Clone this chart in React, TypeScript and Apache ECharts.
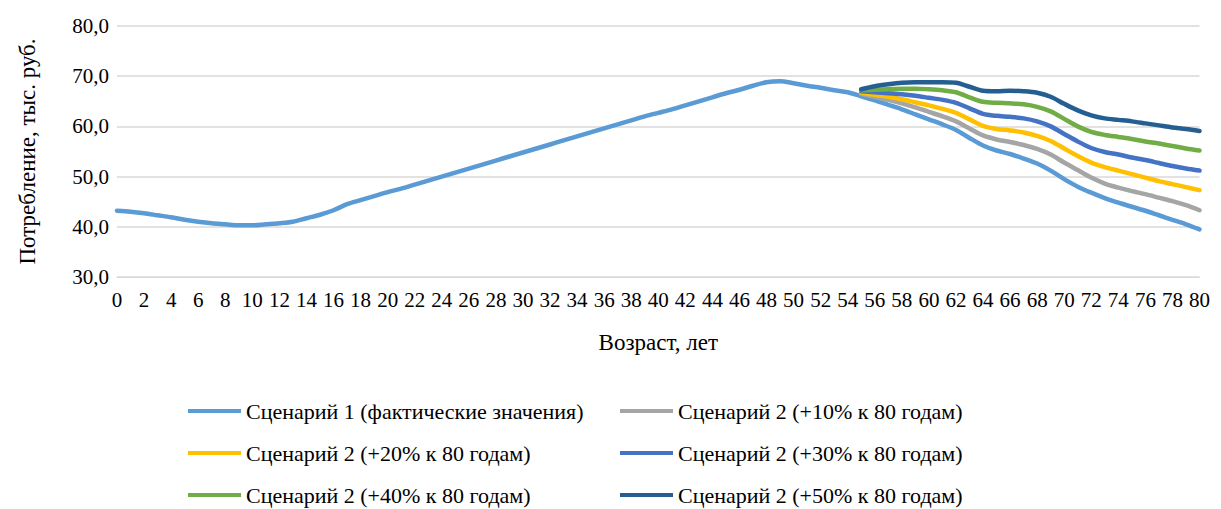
import React, { useEffect, useRef } from "react";
import * as echarts from "echarts";

const ages = Array.from({ length: 81 }, (_, i) => String(i));

const scenario1 = [
  43.2, 43.0, 42.7, 42.3, 41.9, 41.4, 41.0, 40.7, 40.5, 40.3, 40.3, 40.5, 40.7, 41.0, 41.7, 42.4,
  43.3, 44.5, 45.3, 46.1, 46.9, 47.6, 48.4, 49.2, 50.0, 50.8, 51.6, 52.4, 53.2, 54.0, 54.8, 55.6,
  56.4, 57.2, 58.0, 58.8, 59.6, 60.4, 61.2, 62.0, 62.7, 63.4, 64.2, 65.0, 65.8, 66.6, 67.3, 68.1,
  68.8, 69.0, 68.6, 68.1, 67.7, 67.2, 66.8, 66.0, 65.2, 64.3, 63.4, 62.4, 61.4, 60.4, 59.3, 57.7,
  56.2, 55.2, 54.5, 53.6, 52.6, 51.2, 49.5, 48.0, 46.8, 45.7, 44.8, 44.0, 43.2, 42.3, 41.4, 40.5, 39.5,
];

// scenario 2 values from age 55 to 80
const s10 = [66.5, 65.9, 65.3, 64.6, 63.8, 62.9, 62.0, 61.0, 59.6, 58.2, 57.4, 56.9, 56.3, 55.5, 54.4, 52.8, 51.3, 49.8, 48.6, 47.8, 47.1, 46.5, 45.8, 45.1, 44.3, 43.3];
const s20 = [66.7, 66.3, 65.9, 65.4, 64.8, 64.2, 63.5, 62.7, 61.4, 60.1, 59.5, 59.2, 58.8, 58.1, 57.1, 55.6, 54.1, 52.8, 51.9, 51.2, 50.5, 49.8, 49.1, 48.5, 47.9, 47.3];
const s30 = [67.0, 66.8, 66.6, 66.4, 66.1, 65.7, 65.3, 64.7, 63.6, 62.5, 62.1, 61.9, 61.6, 61.0, 60.0, 58.5, 57.0, 55.7, 54.9, 54.4, 53.8, 53.3, 52.7, 52.1, 51.6, 51.2];
const s40 = [67.2, 67.3, 67.4, 67.5, 67.5, 67.4, 67.2, 66.8, 65.8, 64.9, 64.7, 64.6, 64.4, 63.9, 63.0, 61.5, 60.0, 58.9, 58.3, 57.9, 57.5, 57.0, 56.6, 56.1, 55.6, 55.2];
const s50 = [67.4, 68.0, 68.4, 68.7, 68.8, 68.8, 68.8, 68.7, 67.9, 67.1, 67.0, 67.1, 67.0, 66.7, 65.9, 64.5, 63.2, 62.2, 61.6, 61.3, 61.0, 60.6, 60.2, 59.8, 59.5, 59.1];

const names = [
  "Сценарий 1 (фактические значения)",
  "Сценарий 2 (+10% к 80 годам)",
  "Сценарий 2 (+20% к 80 годам)",
  "Сценарий 2 (+30% к 80 годам)",
  "Сценарий 2 (+40% к 80 годам)",
  "Сценарий 2 (+50% к 80 годам)",
];
const colors = ["#5b9bd5", "#a5a5a5", "#ffc000", "#4472c4", "#70ad47", "#255e91"];
const startAge = 55;

const pad = (v: number[]) => [...Array(startAge).fill(null), ...v];

const App: React.FC = () => {
  const ref = useRef<HTMLDivElement>(null);

  useEffect(() => {
    if (!ref.current) return;
    const chart = echarts.init(ref.current, undefined, { renderer: "svg" });
    const font = "'Liberation Serif', 'DejaVu Serif', serif";
    const series = [scenario1, pad(s10), pad(s20), pad(s30), pad(s40), pad(s50)];
    const legendPos = [
      [175, 390], [607, 390], [175, 432], [607, 432], [175, 474], [607, 474],
    ];
    chart.setOption({
      animation: false,
      textStyle: { fontFamily: font },
      grid: { left: 107, right: 8, top: 18, bottom: 232 },
      legend: names.map((n, i) => ({
        data: [n],
        left: legendPos[i][0],
        top: legendPos[i][1],
        itemWidth: 53,
        itemHeight: 4,
        itemGap: 0,
        padding: [2, 5],
        icon: "rect",
        textStyle: { fontFamily: font, fontSize: 22, color: "#000" },
      })),
      xAxis: {
        type: "category",
        data: ages,
        boundaryGap: false,
        name: "Возраст, лет",
        nameLocation: "middle",
        nameGap: 54,
        nameTextStyle: { fontFamily: font, fontSize: 23, color: "#000" },
        axisLine: { lineStyle: { color: "#d9d9d9" } },
        axisTick: { show: false },
        axisLabel: { interval: 1, fontSize: 21, color: "#000", margin: 12, fontFamily: font },
      },
      yAxis: {
        type: "value",
        min: 30,
        max: 80,
        interval: 10,
        name: "Потребление, тыс. руб.",
        nameLocation: "middle",
        nameGap: 78,
        nameTextStyle: { fontFamily: font, fontSize: 23, color: "#000" },
        axisLabel: {
          fontSize: 21,
          color: "#000",
          margin: 8,
          fontFamily: font,
          formatter: (v: number) => v.toFixed(1).replace(".", ","),
        },
        splitLine: { lineStyle: { color: "#d9d9d9", width: 1.5 } },
      },
      series: series.map((d, i) => ({
        name: names[i],
        type: "line",
        data: d,
        smooth: 0.3,
        showSymbol: false,
        symbol: "none",
        lineStyle: { width: 4.5, color: colors[i], cap: "round" },
        itemStyle: { color: colors[i] },
        z: i === 0 ? 2 : 3,
      })),
    } as any);
    return () => chart.dispose();
  }, []);

  return <div ref={ref} style={{ width: 1205, height: 501 }} />;
};

export default App;
